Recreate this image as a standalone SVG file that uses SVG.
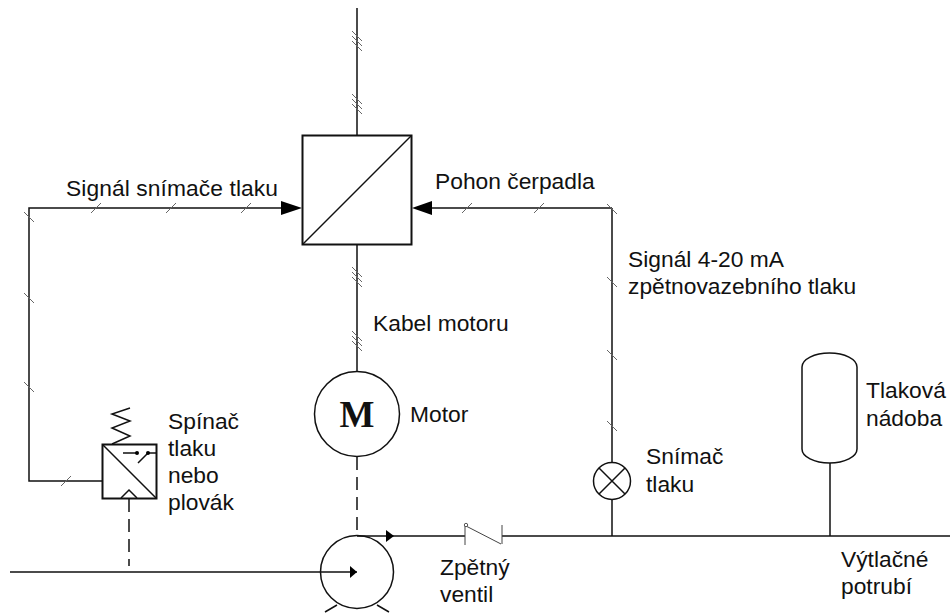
<svg xmlns="http://www.w3.org/2000/svg" width="950" height="613" viewBox="0 0 950 613">
<style>
.l{fill:none;stroke:#111;stroke-width:1.500}
.n{fill:none;stroke:#444;stroke-width:1}
.h{fill:#fff;stroke:#111;stroke-width:1.500}
.b{fill:#fff;stroke:#111;stroke-width:2}
.t{fill:none;stroke:#666;stroke-width:1}
.d{fill:none;stroke:#111;stroke-width:1.500;stroke-dasharray:13 7}
text{font-family:"Liberation Sans",Arial,sans-serif;font-size:22.800px;fill:#111}
</style>
<defs>
<path id="t1" class="t" d="M-5 5L5-5"/>
<path id="t2" class="t" d="M-5-5L5 5"/>
<path id="t3" class="t" d="M-5-10L5 0M-5-5L5 5M-5 0L5 10"/>
</defs>
<rect width="950" height="613" fill="#fff"/>
<g id="connectors">
<path class="l" d="M357 8V135M357 245V371M357 536H465M502 536H950M10 572H357M612 208V463M612 499V536M830 463V536"/>
<path class="l" d="M285 208H29V481H102M612 208H430"/>
<path class="d" d="M357 457V536M129 499V566"/>
<path d="M302 208L281 201V215Z"/><path d="M412 208L432 201V215Z"/>
<path d="M394 536L386 530V542Z"/><path d="M357 572L350 566V578Z"/>
<use href="#t3" x="357" y="41"/><use href="#t3" x="357" y="104"/><use href="#t3" x="357" y="277"/><use href="#t3" x="357" y="341"/>
<use href="#t1" x="96" y="208"/><use href="#t1" x="171" y="208"/><use href="#t1" x="246" y="208"/><use href="#t1" x="467" y="208"/><use href="#t1" x="539" y="208"/><use href="#t1" x="66" y="481"/>
<use href="#t2" x="29" y="217"/><use href="#t2" x="29" y="298"/><use href="#t2" x="29" y="387"/><use href="#t2" x="612" y="209"/><use href="#t2" x="612" y="282"/><use href="#t2" x="612" y="355"/><use href="#t2" x="612" y="426"/>
</g>
<g id="converter"><rect class="b" x="302.500" y="135.500" width="109" height="109"/><path class="l" d="M303 244L411 136"/></g>
<g id="motor"><circle class="h" cx="357" cy="414" r="42.500"/><text x="357" y="427" text-anchor="middle" style="font:bold 37px 'Liberation Serif',serif">M</text></g>
<g id="pump"><path class="l" d="M325 612L337 605M389 612L377 605"/><circle class="l" cx="357" cy="572" r="36.500"/></g>
<g id="switch"><path class="l" d="M112 444L130 436L112 428L130 421L112 414L130 408"/><rect class="b" x="102.500" y="444.500" width="54" height="54"/><path class="l" d="M103 445L156 498M123 453H137M148 453H157M138 463L148 453M121 498L129 490L137 498"/><circle cx="137" cy="453" r="2"/><circle cx="148" cy="453" r="2"/></g>
<g id="valve"><path class="n" d="M465 524V545M466 526L501 544M502 525V544"/><circle cx="466" cy="525" r="1.700" fill="#fff" stroke="#555"/></g>
<g id="sensor"><circle class="h" cx="612" cy="481" r="18.500"/><path class="l" d="M599 468L625 494M625 468L599 494"/></g>
<g id="vessel"><path class="h" d="M802 367A27.500 14 0 0 1 857 367V449A27.500 14 0 0 1 802 449Z"/></g>
<g id="labels">
<text x="66" y="196" textLength="212">Signál snímače tlaku</text>
<text x="435" y="189">Pohon čerpadla</text>
<text x="628" y="267">Signál 4-20 mA</text><text x="628" y="294">zpětnovazebního tlaku</text>
<text x="373" y="331">Kabel motoru</text>
<text x="410" y="422">Motor</text>
<text x="168" y="429">Spínač</text><text x="168" y="456">tlaku</text><text x="168" y="483">nebo</text><text x="168" y="510">plovák</text>
<text x="646" y="464">Snímač</text><text x="646" y="492">tlaku</text>
<text x="866" y="398">Tlaková</text><text x="866" y="426">nádoba</text>
<text x="440" y="575">Zpětný</text><text x="440" y="602">ventil</text>
<text x="841" y="567">Výtlačné</text><text x="841" y="594">potrubí</text>
</g>
</svg>
